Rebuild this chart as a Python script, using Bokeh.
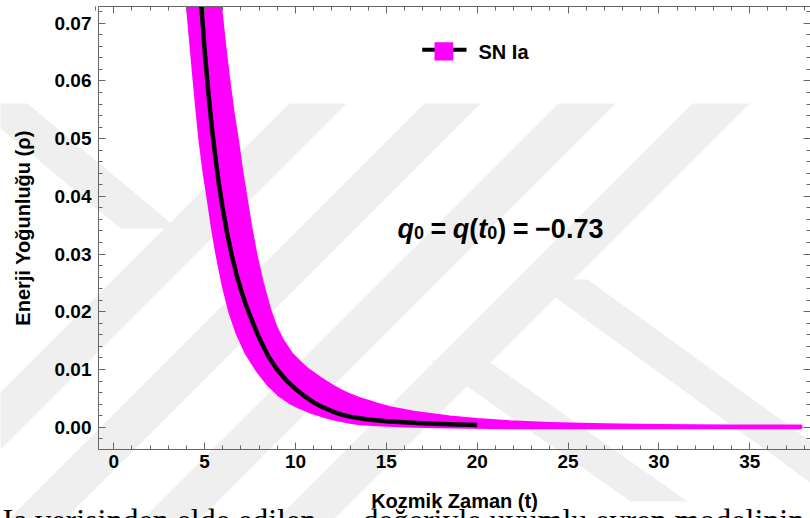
from bokeh.plotting import figure
from bokeh.models import (Range1d, LinearAxis, SingleIntervalTicker, FixedTicker,
                          PrintfTickFormatter, Label, BoxAnnotation)
from bokeh.embed import file_html
from bokeh.resources import INLINE

# ---------------- data ----------------
center_t = [4.82, 5.00, 5.20, 5.40, 5.60, 5.80, 6.00, 6.25, 6.50, 6.75, 7.00, 7.25,
            7.50, 8.00, 8.50, 9.00, 9.50, 10.0, 10.5, 11.0, 11.5, 12.0, 12.5, 13.0, 14.0,
            15.0, 16.0, 17.0, 18.0, 19.0, 20.0]
center_rho = [0.0729, 0.0653, 0.0581, 0.0518, 0.0465, 0.0418, 0.0378, 0.0334,
              0.0297, 0.0265, 0.0238, 0.0214, 0.0193, 0.0155, 0.0123, 0.00995, 0.0081,
              0.00663, 0.00537, 0.0043, 0.00347, 0.0028, 0.00221, 0.00183, 0.00132,
              0.00102, 0.00085, 0.00070, 0.00056, 0.00045, 0.00036]

upper_t = [5.85, 6.10, 6.35, 6.55, 6.78, 7.00, 7.25, 7.50, 7.80, 8.15, 8.55, 8.90,
           9.25, 9.75, 10.26, 10.63, 11.35, 12.0, 12.45, 13.0, 13.55, 14.5, 15.2, 16.5,
           18.5, 20.0, 21.8, 24.0, 27.0, 30.0, 34.0, 37.8]
upper_rho = [0.0729, 0.0654, 0.0590, 0.0543, 0.0497, 0.0447, 0.0398, 0.0349,
             0.0298, 0.0250, 0.0204, 0.0173, 0.0151, 0.0127, 0.0111, 0.0100, 0.0084,
             0.0071, 0.0063, 0.0055, 0.00484, 0.0039, 0.0033, 0.0025, 0.0017, 0.00124,
             0.00086, 0.00055, 0.00032, 0.00020, 0.00013, 0.00010]

lower_t = [4.08, 4.25, 4.45, 4.60, 4.76, 5.00, 5.20, 5.45, 5.70, 6.05, 6.41, 6.80,
           7.30, 7.88, 8.50, 9.16, 9.70, 10.26, 10.80, 11.35, 11.90, 12.45, 13.0, 13.55,
           14.5, 16.5, 18.5, 22.0, 37.8]
lower_rho = [0.0729, 0.0670, 0.0600, 0.0550, 0.0500, 0.0440, 0.0400, 0.0346,
             0.0300, 0.0245, 0.0200, 0.0164, 0.0129, 0.0100, 0.00747, 0.0055, 0.00435,
             0.00347, 0.00276, 0.0022, 0.00166, 0.00128, 0.00095, 0.0007, 0.0005,
             0.00025, 0.0001, 0.0, 0.0]

x_ticks = [0, 5, 10, 15, 20, 25, 30, 35]
y_ticks = [0.00, 0.01, 0.02, 0.03, 0.04, 0.05, 0.06, 0.07]

x_label = "Kozmik Zaman (t)"
y_label = "Enerji Yoğunluğu (ρ)"
legend_label = "SN Ia"
page_text = ["Ia verisinden elde edilen", "değeriyle uyumlu evren modelinin"]

# ---------------- geometry ----------------
W, H = 810, 518
FL, FR, FT, FB = 98, 810, 6, 449          # plot box edges in px
X0PX, XS = 113.3, 18.17                    # px of t=0, px per unit t
Y0PX, YS = 426.7, 5771.0                   # px of rho=0, px per unit rho


def dx(px):
    return (px - X0PX) / XS


def dy(py):
    return (Y0PX - py) / YS


FONT = "Liberation Sans"
AX_COL = "#666666"
MAGENTA = "#ff00ff"

p = figure(width=W, height=H,
           x_range=Range1d(dx(0), dx(W)), y_range=Range1d(dy(H), dy(0)),
           output_backend="svg", toolbar_location=None,
           x_axis_location=None, y_axis_location=None,
           min_border=0, min_border_left=0, min_border_right=0, min_border_top=0,
           min_border_bottom=0)
p.outline_line_color = None
p.grid.visible = False
p.background_fill_color = "white"
p.border_fill_color = "white"

# ---------------- watermark (faint grey stripes) ----------------
wm = [
    [(289, 103), (346, 103), (-114, 563), (-171, 563)],
    [(424, 103), (480, 103), (20, 563), (-36, 563)],
    [(558, 103), (615, 103), (155, 563), (98, 563)],
    [(692, 103), (749, 103), (289, 563), (232, 563)],
    [(-30, 103), (27, 103), (177, 228), (120, 228)],
    [(430, 360), (487, 360), (687, 501), (630, 501)],
    [(530, 279), (587, 279), (947, 540), (890, 540)],
]
p.patches([[dx(a) for a, b in poly] for poly in wm],
          [[dy(b) for a, b in poly] for poly in wm],
          fill_color="#efefef", line_color=None)

# ---------------- band and curve ----------------
band_x = upper_t + lower_t[::-1]
band_y = upper_rho + lower_rho[::-1]
p.patch(band_x, band_y, fill_color=MAGENTA, line_color=MAGENTA, line_width=4,
        line_join="round")
p.line(center_t, center_rho, line_color="black", line_width=4.5, line_cap="butt",
       line_join="round")
# keep the strip above the top frame line clean
p.add_layout(BoxAnnotation(left=dx(0), right=dx(W), top=dy(0), bottom=dy(FT - 0.5),
                           fill_color="white", fill_alpha=1, line_alpha=0,
                           level="glyph"))

# ---------------- axes (fixed at the plot box edges) ----------------
x_minor = [i for i in range(-1, 39) if i % 5 != 0]
y_minor = [i / 500 for i in range(-1, 37) if i % 5 != 0]
xb = (dx(FL), dx(FR))
yb = (dy(FB), dy(FT))


def style(ax):
    ax.axis_line_color = AX_COL
    ax.axis_line_width = 1
    ax.major_tick_line_color = AX_COL
    ax.minor_tick_line_color = AX_COL
    ax.major_tick_in = 7
    ax.major_tick_out = 0
    ax.minor_tick_in = 4
    ax.minor_tick_out = 0
    ax.major_label_text_font = FONT
    ax.major_label_text_font_style = "bold"
    ax.major_label_text_color = "black"
    ax.major_label_text_font_size = "19px"
    ax.axis_label_text_font = FONT
    ax.axis_label_text_font_style = "bold"
    ax.axis_label_text_font_size = "20px"
    ax.axis_label_text_color = "black"


xa = LinearAxis(ticker=SingleIntervalTicker(interval=5, num_minor_ticks=5),
                fixed_location=dy(FB), bounds=xb, axis_label=x_label)
style(xa)
xa.major_label_standoff = 5
xa.axis_label_standoff = 19
p.add_layout(xa, "below")

ya = LinearAxis(ticker=SingleIntervalTicker(interval=0.01, num_minor_ticks=5),
                formatter=PrintfTickFormatter(format="%.2f"),
                fixed_location=dx(FL), bounds=yb, axis_label=y_label)
style(ya)
ya.major_label_standoff = 7
ya.axis_label_standoff = 18
p.add_layout(ya, "left")


def tick_only_axis(ticks, length, line, loc, bounds):
    ax = LinearAxis(ticker=FixedTicker(ticks=[], minor_ticks=ticks),
                    fixed_location=loc, bounds=bounds)
    ax.axis_line_color = AX_COL if line else None
    ax.minor_tick_line_color = AX_COL
    ax.minor_tick_in = length
    ax.minor_tick_out = 0
    ax.major_tick_out = 0
    ax.major_label_standoff = 0
    return ax


p.add_layout(tick_only_axis(x_ticks, 7, True, dy(FT), xb), "above")
p.add_layout(tick_only_axis(x_minor, 4, False, dy(FT), xb), "above")
p.add_layout(tick_only_axis(y_ticks, 7, False, dx(FR), yb), "right")
p.add_layout(tick_only_axis(y_minor, 4, False, dx(FR), yb), "right")

# ---------------- legend (black line with magenta square) ----------------
p.add_layout(BoxAnnotation(left=dx(421.7), right=dx(466), top=dy(47.3), bottom=dy(51.3),
                           fill_color="black", fill_alpha=1, line_alpha=0))
p.add_layout(BoxAnnotation(left=dx(434), right=dx(452.7), top=dy(41.7), bottom=dy(60),
                           fill_color=MAGENTA, fill_alpha=1, line_alpha=0))
p.add_layout(Label(x=dx(478), y=dy(51), text=legend_label, text_font=FONT,
                   text_font_size="20px", text_font_style="bold",
                   text_baseline="alphabetic", text_align="left", text_color="black"))

# ---------------- annotation q0 = q(t0) = -0.73 ----------------
BASE = 228
pieces = [
    (397.0, "q", "27px", "bold italic", 0),
    (413.5, "0", "18px", "bold", 4),
    (430.0, "=", "27px", "bold", 0),
    (452.3, "q", "27px", "bold italic", 0),
    (468.8, "(", "27px", "bold", 0),
    (477.8, "t", "27px", "bold italic", 0),
    (486.8, "0", "18px", "bold", 4),
    (496.8, ")", "27px", "bold", 0),
    (512.3, "=", "27px", "bold", 0),
    (534.6, "\u22120.73", "27px", "bold", 0),
]
for px, txt, size, fstyle, drop in pieces:
    p.add_layout(Label(x=dx(px), y=dy(BASE + drop), text=txt, text_font=FONT,
                       text_font_size=size, text_font_style=fstyle,
                       text_baseline="alphabetic", text_align="left",
                       text_color="black"))

# ---------------- page text cut at the bottom ----------------
for px, txt in zip([2, 362], page_text):
    p.add_layout(Label(x=dx(px), y=dy(519), text=txt, text_font="Liberation Serif",
                       text_font_size="32px", text_baseline="middle",
                       text_align="left", text_color="black"))

open("out.html", "w").write(file_html(p, INLINE))
